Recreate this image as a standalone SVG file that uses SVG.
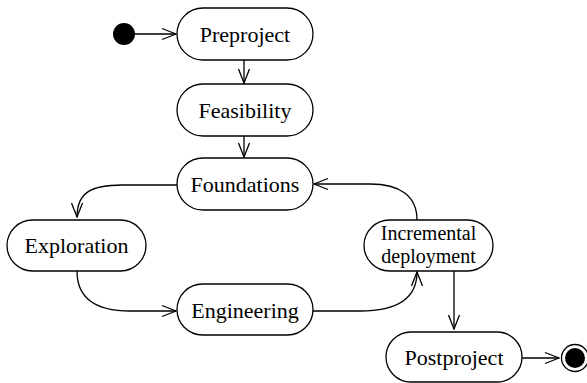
<svg xmlns="http://www.w3.org/2000/svg" width="587" height="383" viewBox="0 0 587 383">
  <style>
    .state rect { fill: #fff; stroke: #000; stroke-width: 1.3; }
    .state text { font-family: "Liberation Serif", "DejaVu Serif", serif; font-size: 22px; fill: #000; text-anchor: middle; }
    .state text.two-line { font-size: 20px; }
    .edge { fill: none; stroke: #000; stroke-width: 1.3; marker-end: url(#open); }
  </style>
  <defs>
    <marker id="open" viewBox="0 0 16 14" refX="15" refY="7" markerWidth="16" markerHeight="14" markerUnits="userSpaceOnUse" orient="auto">
      <path d="M1,1.5 L15,7 L1,12.5" fill="none" stroke="#000" stroke-width="1.3"/>
    </marker>
  </defs>

  <g id="connectors">
    <path class="edge" d="M135,34 H176"/>
    <path class="edge" d="M244,60 V83"/>
    <path class="edge" d="M244,136 V157"/>
    <path class="edge" d="M177,185 H122 C92,185 77,192 77,217"/>
    <path class="edge" d="M77,271 C77,298 95,311 130,311 H176"/>
    <path class="edge" d="M313,311 H360 C395,311 417,300 417,272"/>
    <path class="edge" d="M417,220 C417,196 400,184 370,184 H314"/>
    <path class="edge" d="M454,271 V329"/>
    <path class="edge" d="M522,358 H559"/>
  </g>

  <g id="initial">
    <circle cx="124" cy="34" r="11" fill="#000"/>
  </g>

  <g id="preproject" class="state">
    <rect x="177" y="8" width="136" height="52" rx="26"/>
    <text x="245" y="42">Preproject</text>
  </g>

  <g id="feasibility" class="state">
    <rect x="177" y="84" width="136" height="52" rx="26"/>
    <text x="245" y="118">Feasibility</text>
  </g>

  <g id="foundations" class="state">
    <rect x="177" y="158" width="136" height="52" rx="26"/>
    <text x="245" y="192">Foundations</text>
  </g>

  <g id="exploration" class="state">
    <rect x="7" y="220" width="139" height="51" rx="25.5"/>
    <text x="76.5" y="253">Exploration</text>
  </g>

  <g id="engineering" class="state">
    <rect x="177" y="284" width="136" height="51" rx="25.5"/>
    <text x="245" y="318">Engineering</text>
  </g>

  <g id="incremental-deployment" class="state">
    <rect x="364" y="220" width="129" height="51" rx="25.5"/>
    <text class="two-line" x="428.5" y="239.5">Incremental</text>
    <text class="two-line" x="428.5" y="263">deployment</text>
  </g>

  <g id="postproject" class="state">
    <rect x="386" y="332" width="136" height="50" rx="25"/>
    <text x="454" y="365">Postproject</text>
  </g>

  <g id="final">
    <circle cx="575" cy="358" r="13.5" fill="#fff" stroke="#000" stroke-width="1.3"/>
    <circle cx="575" cy="358" r="10" fill="#000"/>
  </g>
</svg>
